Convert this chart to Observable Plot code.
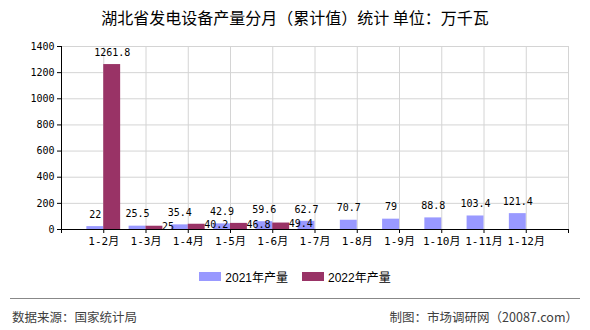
<!DOCTYPE html>
<html><head><meta charset="utf-8">
<script src="https://cdn.jsdelivr.net/npm/d3@7"></script>
<script src="https://cdn.jsdelivr.net/npm/@observablehq/plot@0.6"></script>
<style>
body{margin:0;background:#fff;width:590px;height:330px;overflow:hidden;position:relative;font-family:"Noto Sans CJK SC",sans-serif}
#title{position:absolute;top:6px;left:0;width:590px;text-align:center;font-size:16px;line-height:22px;font-weight:normal;color:#000}
#chart{position:absolute;top:35px;left:0}
#legend{position:absolute;top:268px;left:0;width:590px;display:flex;justify-content:center;align-items:center;font-family:"Liberation Sans","Noto Sans CJK SC",sans-serif;font-size:12px;color:#000}
.sw{display:inline-block;width:22px;height:9px;margin-right:4px}
.item{display:flex;align-items:center;margin:0 7px}
#sep{position:absolute;top:298px;left:10px;width:570px;height:0;border-top:1px solid #888}
.foot{position:absolute;top:307px;font-size:12.5px;color:#404040}
</style></head>
<body>
<div id="title">湖北省发电设备产量分月（累计值）统计&nbsp;单位：万千瓦</div>
<div id="chart"></div>
<div id="legend">
  <span class="item"><span class="sw" style="background:#9999ff"></span>2021年产量</span>
  <span class="item"><span class="sw" style="background:#993366"></span>2022年产量</span>
</div>
<div id="sep"></div>
<div class="foot" style="left:12px">数据来源：国家统计局</div>
<div class="foot" style="right:12px">制图：市场调研网（20087.com）</div>
<script>
const months = ["1-2月","1-3月","1-4月","1-5月","1-6月","1-7月","1-8月","1-9月","1-10月","1-11月","1-12月"];
const v2021 = [22,25.5,35.4,42.9,59.6,62.7,70.7,79,88.8,103.4,121.4];
const v2022 = [1261.8,25,40.2,46.8,49.4];
const yTicks = [0,200,400,600,800,1000,1200,1400];
const colors = {"2021":"#9999ff","2022":"#993366"};

const d21 = v2021.map((v,k)=>({i:k+1, month:months[k], value:v}));
const d22 = v2022.map((v,k)=>({i:k+1, month:months[k], value:v}));
const slots = d3.range(0, months.length + 2);

const plot = Plot.plot({
  width: 590, height: 225,
  marginLeft: 61, marginRight: 22, marginTop: 11, marginBottom: 31,
  style: {fontFamily: "'DejaVu Sans Mono','Noto Sans CJK SC',monospace", fontSize: "10px", color: "#000", background: "transparent"},
  x: {type: "linear", domain: [0, months.length + 1]},
  y: {domain: [0, 1400]},
  marks: [
    Plot.ruleY(yTicks.slice(1), {stroke: "#d4d4d4"}),
    Plot.ruleX(slots.slice(1), {stroke: "#d4d4d4"}),
    Plot.rectY(d21, {x1: d => d.i - 0.4, x2: d => d.i, y: "value", fill: colors["2021"]}),
    Plot.rectY(d22, {x1: d => d.i, x2: d => d.i + 0.4, y: "value", fill: colors["2022"]}),
    Plot.text(d21, {x: d => d.i - 0.2, y: "value", text: d => String(d.value), dy: -12, fill: "#000", fontSize: 10}),
    Plot.text(d22.slice(0,1), {x: d => d.i + 0.2, y: "value", text: d => String(d.value), dy: -12, fill: "#000", fontSize: 10}),
    Plot.text(d22.slice(1), {x: d => d.i + 0.38, y: "value", text: d => String(d.value), dy: 1, textAnchor: "start", fill: "#000", fontSize: 10}),
    Plot.axisY({ticks: yTicks, tickFormat: d => String(d), tickSize: 4, tickPadding: 3, label: null, stroke: "#000"}),
    Plot.axisX({ticks: slots, tickFormat: k => months[k-1] ?? "", tickSize: 4, tickPadding: 4, label: null, fontSize: 11, stroke: "#000"}),
    Plot.ruleY([0], {stroke: "#000"}),
    Plot.ruleX([0], {stroke: "#000"})
  ]
});
document.getElementById("chart").appendChild(plot);
</script>
</body></html>
